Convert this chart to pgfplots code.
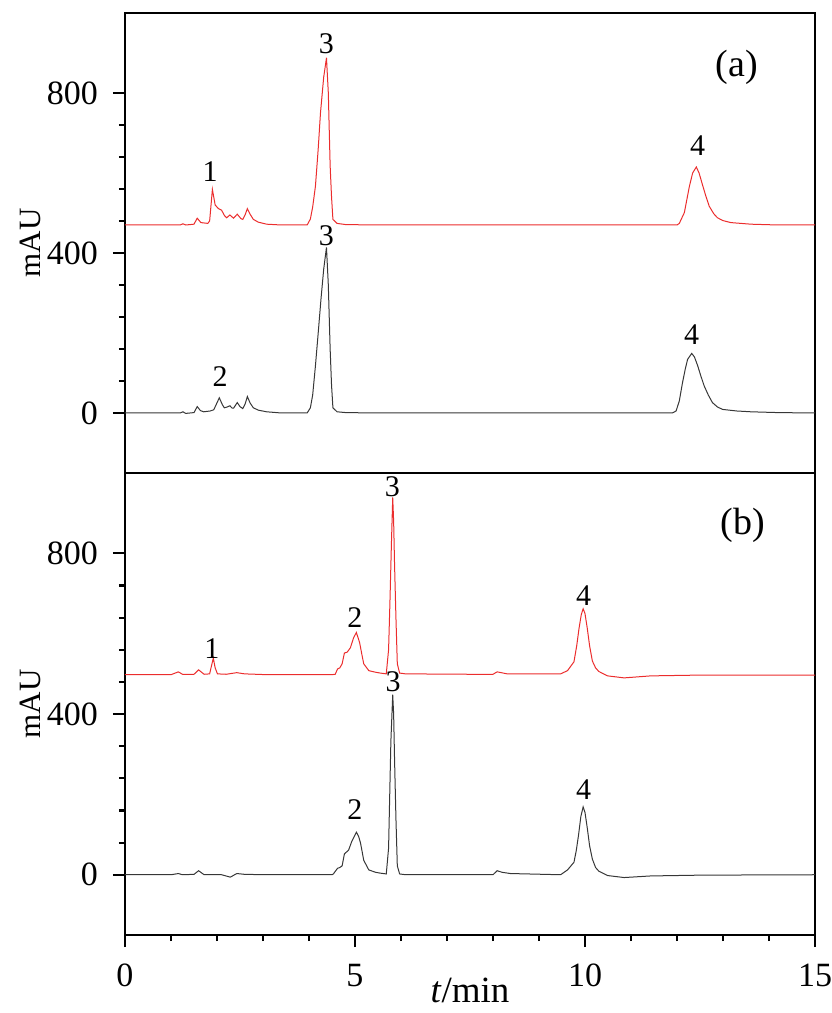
\documentclass[border=0pt]{standalone}
\usepackage{pgfplots}
\pgfplotsset{compat=1.18}
\usepackage{fontspec}
\setmainfont{Liberation Serif}
\definecolor{tracered}{RGB}{235,45,45}
\definecolor{tracegray}{RGB}{55,55,55}

\pgfplotstableread{
t y
0 470
1.20 470
1.26 473
1.32 470
1.50 472
1.57 487
1.65 476
1.80 474
1.84 480
1.90 559
1.96 520
2.03 511
2.10 507
2.16 494
2.21 488
2.28 495
2.36 487
2.44 497
2.52 486
2.56 484
2.61 495
2.66 511
2.72 497
2.79 484
2.90 477
3.08 472
3.40 470
3.96 470
4.03 485
4.08 515
4.14 567
4.20 660
4.25 751
4.32 840
4.38 888
4.42 800
4.46 617
4.49 540
4.52 484
4.61 474
4.80 471
5.5 470
12.00 470
12.05 474
12.16 501
12.27 567
12.34 600
12.42 615
12.48 600
12.55 572
12.62 545
12.70 517
12.80 498
12.88 488
13.00 481
13.17 476
13.61 472
14.2 470
15 470
}\redA

\pgfplotstableread{
t y
0 0
1.20 0
1.26 3
1.32 -1
1.50 1
1.57 16
1.64 6
1.71 3
1.85 5
1.93 8
2.05 38
2.12 20
2.16 13
2.22 15
2.28 18
2.33 12
2.36 12
2.44 26
2.50 16
2.56 11
2.61 22
2.66 41
2.72 25
2.79 13
2.90 7
3.08 3
3.40 0
3.96 0
4.03 13
4.08 45
4.14 118
4.20 200
4.26 284
4.32 360
4.38 414
4.42 320
4.46 159
4.49 70
4.52 13
4.61 3
4.80 1
5.5 0
11.90 0
11.98 5
12.05 30
12.12 76
12.18 110
12.23 134
12.32 149
12.38 140
12.45 118
12.52 92
12.59 68
12.68 45
12.77 26
12.88 15
12.99 9
13.3 5
13.61 3
14.2 1
15 0
}\blackA

\pgfplotstableread{
t y
0 498
1.0 498
1.16 505
1.25 499
1.50 499
1.60 510
1.72 499
1.84 500
1.88 520
1.92 539
1.96 515
2.01 500
2.20 499
2.43 503
2.60 500
3.08 498
4.50 498
4.57 499
4.62 512
4.67 515
4.72 525
4.77 552
4.83 554
4.90 565
4.97 590
5.03 603
5.10 578
5.15 548
5.19 525
5.30 508
5.45 504
5.55 502
5.68 500
5.73 560
5.76 680
5.79 816
5.82 939
5.84 880
5.86 772
5.89 640
5.92 525
5.97 502
6.10 500
7.5 499
8.00 499
8.09 505
8.31 500
9.47 500
9.62 508
9.76 530
9.82 570
9.87 613
9.92 648
9.96 662
10.00 650
10.05 613
10.10 570
10.16 532
10.23 515
10.30 506
10.49 495
10.85 490
11.43 495
12.52 497
15 497
}\redB

\pgfplotstableread{
t y
0 0
1.0 0
1.16 3
1.25 0
1.50 1
1.60 10
1.72 0
1.90 0
2.10 0
2.29 -6
2.43 3
2.60 1
3.08 0
4.50 0
4.53 2
4.62 16
4.67 18
4.72 22
4.77 52
4.86 61
4.93 83
5.03 106
5.08 95
5.12 79
5.19 36
5.30 12
5.45 6
5.55 4
5.68 2
5.73 66
5.78 332
5.82 448
5.84 400
5.86 287
5.89 140
5.92 22
5.97 2
6.10 0
7.44 0
8.00 0
8.09 10
8.20 6
8.38 3
9.47 0
9.62 12
9.76 31
9.81 60
9.86 99
9.91 145
9.96 169
10.00 155
10.05 116
10.10 72
10.16 39
10.23 18
10.30 9
10.49 -2
10.85 -7
11.43 -3
12.52 -1
15 0
}\blackB

\tikzset{lab/.style={font=\fontsize{30}{34}\selectfont, inner sep=0pt, anchor=center}}

\pgfplotsset{
  chrom/.style={
    scale only axis, width=690pt,
    xmin=0, xmax=15, ymin=-150, ymax=1000,
    axis line style={line width=2.6pt},
    ytick={0,400,800}, minor y tick num=4,
    ytick pos=left, xtick pos=left,
    tick align=outside,
    major tick length=12pt, minor tick length=6pt,
    every tick/.style={line width=2.2pt, black},
    /pgf/number format/assume math mode=true,
    tick label style={font=\fontsize{34}{38}\selectfont, inner sep=0pt},
    yticklabel style={xshift=-15pt},
    xticklabel style={yshift=-17pt},
    ylabel={mAU},
    ylabel style={font=\fontsize{31}{35}\selectfont, at={(axis description cs:-0.1377,0.5)}, anchor=center},
    clip=false,
  },
}

\begin{document}
\begin{tikzpicture}
\path[use as bounding box] (-125pt,-78pt) rectangle (707pt,935pt);

\begin{axis}[chrom, at={(0pt,462pt)}, anchor=south west, height=460pt,
  xtick=\empty]
\addplot[tracered, line width=1pt] table[x=t,y=y] {\redA};
\addplot[tracegray, line width=1pt] table[x=t,y=y] {\blackA};
\node[lab] at (axis cs:1.85,604) {1};
\node[lab] at (axis cs:4.38,924) {3};
\node[lab] at (axis cs:12.45,669) {4};
\node[lab] at (axis cs:4.38,442) {3};
\node[lab] at (axis cs:2.07,92) {2};
\node[lab] at (axis cs:12.32,197) {4};
\node[lab, font=\fontsize{38}{42}\selectfont] at (axis cs:13.3,864) {(a)};
\end{axis}

\begin{axis}[chrom, at={(0pt,0pt)}, anchor=south west, height=462pt,
  xtick={0,5,10,15}, minor x tick num=4,
  xlabel={\textit{t}/min},
  xlabel style={font=\fontsize{37}{40}\selectfont, at={(axis description cs:0.5,-0.146)}, anchor=base}]
\addplot[tracered, line width=1pt] table[x=t,y=y] {\redB};
\addplot[tracegray, line width=1pt] table[x=t,y=y] {\blackB};
\node[lab] at (axis cs:1.89,562) {1};
\node[lab] at (axis cs:5.0,640) {2};
\node[lab] at (axis cs:5.81,965) {3};
\node[lab] at (axis cs:9.97,695) {4};
\node[lab] at (axis cs:5.83,480) {3};
\node[lab] at (axis cs:5.0,162) {2};
\node[lab] at (axis cs:9.97,212) {4};
\node[lab, font=\fontsize{38}{42}\selectfont] at (axis cs:13.43,870) {(b)};
\end{axis}
\end{tikzpicture}
\end{document}
